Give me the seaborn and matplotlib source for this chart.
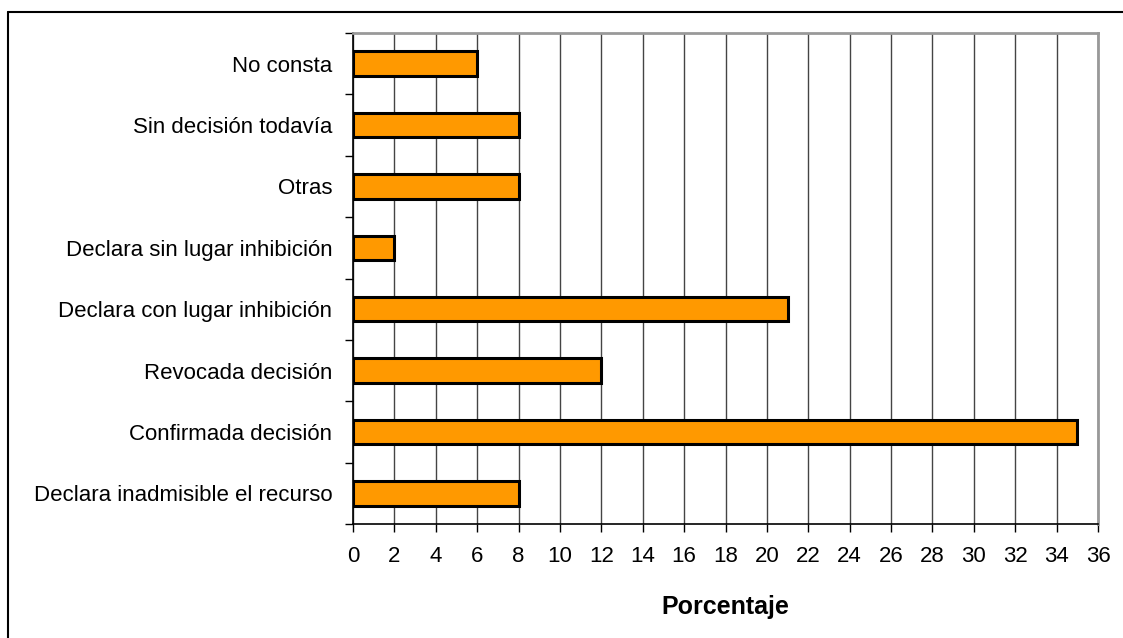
import matplotlib
matplotlib.use("Agg")
import matplotlib.pyplot as plt
import seaborn as sns
import pandas as pd
from matplotlib.lines import Line2D

categorias = [
    "No consta",
    "Sin decisión todavía",
    "Otras",
    "Declara sin lugar inhibición",
    "Declara con lugar inhibición",
    "Revocada decisión",
    "Confirmada decisión",
    "Declara inadmisible el recurso",
]
porcentajes = [6, 8, 8, 2, 21, 12, 35, 8]
ticks_x = list(range(0, 37, 2))

sns.set_style("white")
plt.rcParams["font.family"] = ["Liberation Sans", "DejaVu Sans"]
plt.rcParams["text.color"] = "black"
plt.rcParams["xtick.color"] = "black"
plt.rcParams["ytick.color"] = "black"
plt.rcParams["axes.labelcolor"] = "black"

df = pd.DataFrame({"categoria": categorias, "porcentaje": porcentajes})

fig = plt.figure(figsize=(11.23, 6.38), dpi=100)
ax = fig.add_axes([353 / 1123, 1 - 524 / 638, (1098 - 353) / 1123, (524 - 33) / 638])

sns.barplot(data=df, x="porcentaje", y="categoria", orient="h", ax=ax,
            color="#FF9900", edgecolor="black", linewidth=2.2, width=0.4,
            saturation=1, zorder=3)

ax.set_xlim(0, 36)
ax.set_ylim(len(categorias) - 0.5, -0.5)
ax.set_xticks(ticks_x)
ax.set_xticklabels([str(t) for t in ticks_x], fontsize=16)
ax.xaxis.grid(True, color="#444444", linewidth=1.0, zorder=0)
ax.yaxis.grid(False)
ax.set_axisbelow(True)

# category labels as minor ticks at the centres, major ticks at the boundaries
ax.set_yticks([i - 0.5 for i in range(len(categorias) + 1)])
ax.set_yticklabels([])
ax.set_yticks(range(len(categorias)), minor=True)
ax.set_yticklabels(categorias, minor=True, fontsize=16)
ax.tick_params(axis="y", which="minor", length=0, pad=15)
ax.tick_params(axis="y", which="major", length=6, width=1, color="black", direction="out", left=True)
ax.tick_params(axis="x", length=6, width=1, color="black", direction="out", bottom=True, pad=10)

ax.set_ylabel("")
ax.set_xlabel("Porcentaje", fontsize=18, fontweight="bold", labelpad=20)

for side in ["left", "bottom"]:
    ax.spines[side].set_color("black")
    ax.spines[side].set_linewidth(1.2)
for side in ["top", "right"]:
    ax.spines[side].set_color("#999999")
    ax.spines[side].set_linewidth(2)

# outer frame (top and left edges)
fig.add_artist(Line2D([8 / 1123, 1], [1 - 12 / 638, 1 - 12 / 638], transform=fig.transFigure, color="black", linewidth=1.5))
fig.add_artist(Line2D([8 / 1123, 8 / 1123], [0, 1 - 12 / 638], transform=fig.transFigure, color="black", linewidth=1.5))

fig.savefig("out.png", dpi=100, facecolor="white")
